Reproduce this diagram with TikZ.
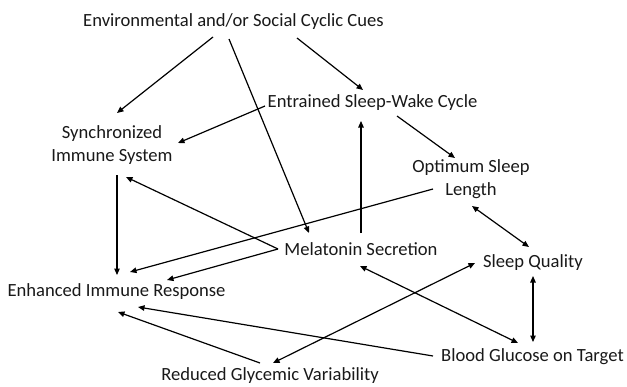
\documentclass[tikz,border=0pt]{standalone}
\usepackage{fontspec}
\setmainfont{Carlito}
\usetikzlibrary{arrows.meta,calc}
\begin{document}
\begin{tikzpicture}[x=1pt,y=-1pt,
  lbl/.style={inner sep=0pt,font=\fontsize{18.6}{23}\selectfont,align=center,text=black!90},
  con/.style={line width=1.2pt,-{Triangle[length=6.5pt,width=5.5pt]}},
  bicon/.style={line width=1.2pt,{Triangle[length=6.5pt,width=5.5pt]}-{Triangle[length=6.5pt,width=5.5pt]}}]
\useasboundingbox (0,0) rectangle (627,386);
\node[lbl] (env) at (233.5,22) {Environmental and/or Social Cyclic Cues};
\node[lbl] (ent) at (372.5,103) {Entrained Sleep-Wake Cycle};
\node[lbl] (sync) at (112,145.5) {Synchronized\\Immune System};
\node[lbl] (opt) at (471,179.5) {Optimum Sleep\\Length};
\node[lbl] (mel) at (361,249) {Melatonin Secretion};
\node[lbl] (sq) at (533,263) {Sleep Quality};
\node[lbl] (enh) at (116.5,292) {Enhanced Immune Response};
\node[lbl] (bg) at (532.5,357) {Blood Glucose on Target};
\node[lbl] (red) at (270,376) {Reduced Glycemic Variability};
% connectors
\draw[con] ($(env)+(-20.5,15)$) -- ($(sync)+(5,-32.5)$);
\draw[con] ($(env)+(-4.5,17)$) -- ($(mel)+(-52,-16)$);
\draw[con] ($(env)+(63.5,16)$) -- ($(ent)+(-9.5,-13)$);
\draw[con] ($(ent)+(-107.5,3)$) -- ($(sync)+(66,-2.5)$);
\draw[con] ($(ent)+(24.5,13)$) -- ($(opt)+(-16,-21.5)$);
\draw[con] ($(mel)+(0,-16)$) -- ($(ent)+(-11.5,18)$);
\draw[con] ($(sync)+(5,29.5)$) -- ($(enh)+(0.5,-17)$);
\draw[con] ($(mel)+(-83,0)$) -- ($(sync)+(14,31.5)$);
\draw[con] ($(mel)+(-83,0)$) -- ($(enh)+(50.5,-12)$);
\draw[con] ($(opt)+(-38,9.5)$) -- ($(enh)+(13.5,-20)$);
\draw[bicon] ($(opt)+(1,26.5)$) -- ($(sq)+(-4,-16)$);
\draw[bicon] ($(sq)+(0,13)$) -- ($(bg)+(0.5,-15)$);
\draw[bicon] ($(bg)+(-14.5,-14)$) -- ($(mel)+(-1,17)$);
\draw[bicon] ($(red)+(3,-13)$) -- ($(sq)+(-58,0)$);
\draw[con] ($(bg)+(-99.5,-1)$) -- ($(enh)+(21.5,15)$);
\draw[con] ($(red)+(-10,-13)$) -- ($(enh)+(1.5,20)$);
\end{tikzpicture}
\end{document}
